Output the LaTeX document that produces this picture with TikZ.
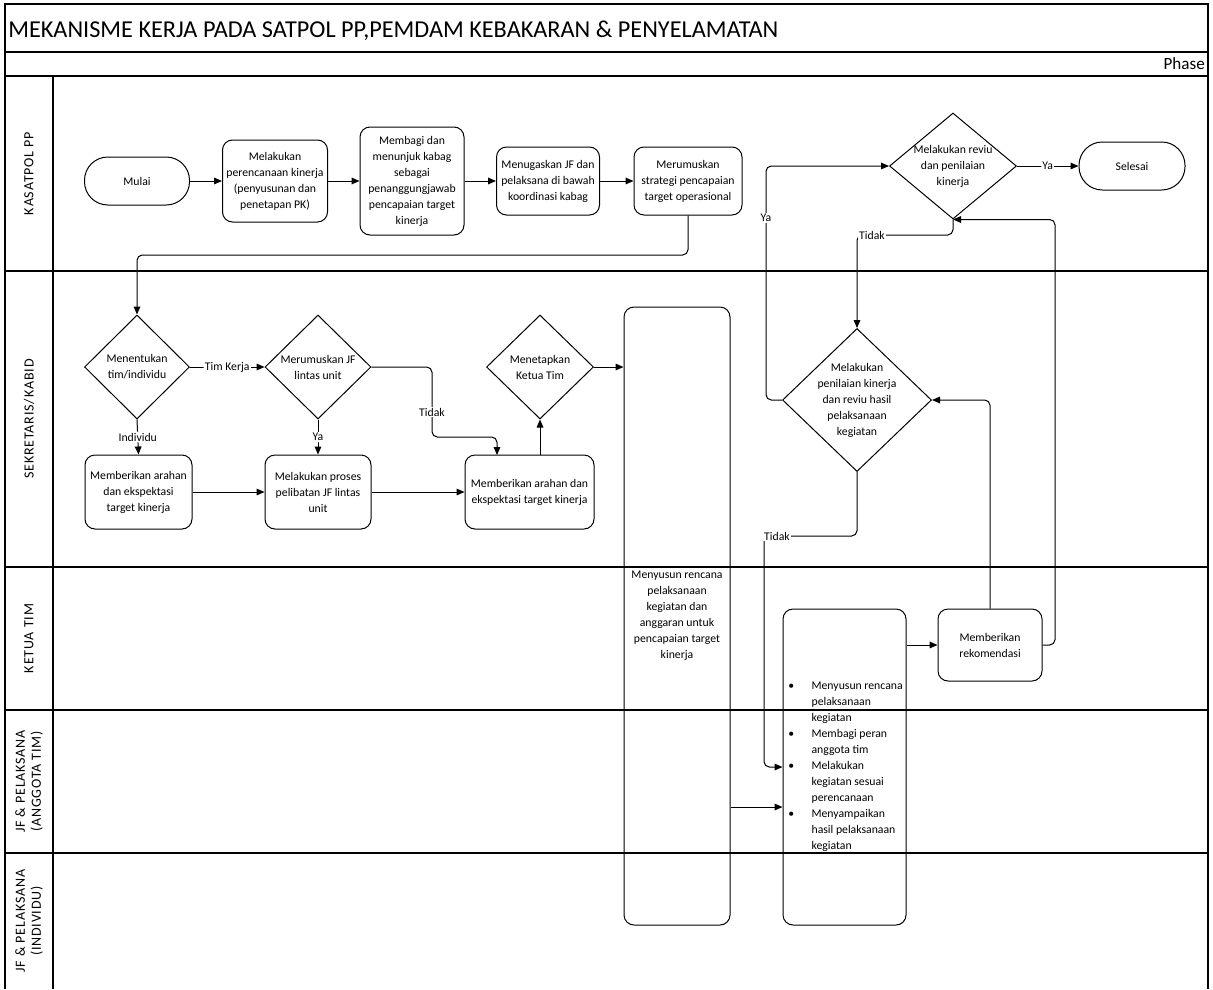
\documentclass[tikz,border=0pt]{standalone}
\usepackage{fontspec}
\setmainfont{Carlito}
\newfontfamily\lanefont[LetterSpace=6]{Carlito}
\usetikzlibrary{shapes.geometric,arrows.meta}
\begin{document}
\begin{tikzpicture}[x=0.75pt, y={(0pt,-0.75pt)},
  every node/.style={font=\fontsize{8.8}{12}\selectfont},
  sz/.style 2 args={minimum width={#1*0.75pt}, minimum height={#2*0.75pt}},
  box/.style={draw, line width=0.75pt, rounded corners=7.5pt, inner sep=0pt, align=center},
  term/.style={draw, line width=0.75pt, rounded corners=17.5pt, inner sep=0pt, align=center},
  dia/.style={draw, line width=0.75pt, diamond, inner sep=0pt},
  txt/.style={inner sep=0pt, align=center},
  flow/.style={line width=0.75pt, rounded corners=4pt, -{Triangle[length=6pt,width=5pt]}},
  lbl/.style={fill=white, inner sep=1pt},
  lane/.style={line width=1.4pt},
  lanetxt/.style={rotate=90, align=center, inner sep=0pt, font=\lanefont\fontsize{10.5}{12}\selectfont}]
\useasboundingbox (0,0) rectangle (1213,989);
% frame and lanes
\draw[lane] (5,989) -- (5,4) -- (1208,4) -- (1208,989);
\draw[lane] (5,52) -- (1208,52);
\draw[lane] (5,76) -- (1208,76);
\draw[lane] (5,271) -- (1208,271);
\draw[lane] (5,567) -- (1208,567);
\draw[lane] (5,710) -- (1208,710);
\draw[lane] (5,853) -- (1208,853);
\draw[lane] (53,76) -- (53,989);
\node[anchor=base west, inner sep=0pt, font=\fontsize{18.2}{20}\selectfont] (title) at (8,37) {MEKANISME KERJA PADA SATPOL PP,PEMDAM KEBAKARAN \& PENYELAMATAN};
\node[anchor=base east, inner sep=0pt, font=\fontsize{12.8}{14}\selectfont] (phase) at (1205,69) {Phase};
\node[lanetxt] (l1) at (29,173.5) {KASATPOL PP};
\node[lanetxt] (l2) at (29,419) {SEKRETARIS/KABID};
\node[lanetxt] (l3) at (29,638.5) {KETUA TIM};
\node[lanetxt] (l4) at (29,781.5) {JF \& PELAKSANA\\(ANGGOTA TIM)};
\node[lanetxt] (l5) at (29,921) {JF \& PELAKSANA\\(INDIVIDU)};
% lane 1
\node[term, sz={105}{48}] (mulai) at (137,181) {Mulai};
\node[box, sz={105}{82}] (A) at (275,181) {Melakukan\\perencanaan kinerja\\(penyusunan dan\\penetapan PK)};
\node[box, sz={104}{108}] (B) at (412,181) {Membagi dan\\menunjuk kabag\\sebagai\\penanggungjawab\\pencapaian target\\kinerja};
\node[box, sz={103}{68}] (C) at (548,181) {Menugaskan JF dan\\pelaksana di bawah\\koordinasi kabag};
\node[box, sz={108}{68}] (D) at (688,181) {Merumuskan\\strategi pencapaian\\target operasional};
\node[dia, sz={127}{106}] (R) at (953,166) {};
\node[txt] (Rt) at (R.center) {Melakukan reviu\\dan penilaian\\kinerja};
\node[term, sz={106}{48}] (sel) at (1132,166) {Selesai};
% lane 2
\node[dia, sz={105}{104}] (M) at (137,367) {};
\node[txt] (Mt) at (M.center) {Menentukan\\tim/individu};
\node[dia, sz={106}{104}] (J) at (318,367) {};
\node[txt] (Jt) at (J.center) {Merumuskan JF\\lintas unit};
\node[dia, sz={107}{104}] (K) at (540,367) {};
\node[txt] (Kt) at (K.center) {Menetapkan\\Ketua Tim};
\node[box, sz={107}{74}] (E) at (138.5,492) {Memberikan arahan\\dan ekspektasi\\target kinerja};
\node[box, sz={106}{74}] (F) at (318,492) {Melakukan proses\\pelibatan JF lintas\\unit};
\node[box, sz={129}{74}] (G) at (529.5,492) {Memberikan arahan dan\\ekspektasi target kinerja};
\node[box, sz={106}{618}] (T) at (677,616) {Menyusun rencana\\pelaksanaan\\kegiatan dan\\anggaran untuk\\pencapaian target\\kinerja};
\node[dia, sz={149}{143}] (P) at (857,400) {};
\node[txt] (Pt) at (P.center) {Melakukan\\penilaian kinerja\\dan reviu hasil\\pelaksanaan\\kegiatan};
% lane 3/4
\node[box, sz={123}{316}] (U) at (844.5,767) {};
\node[txt, anchor=west, align=left] (Ut) at (786,766) {\begin{tabular}{@{}p{19pt}@{}l@{}}
\hspace*{1.5pt}\textbullet & Menyusun rencana\\
 & pelaksanaan\\
 & kegiatan\\
\hspace*{1.5pt}\textbullet & Membagi peran\\
 & anggota tim\\
\hspace*{1.5pt}\textbullet & Melakukan\\
 & kegiatan sesuai\\
 & perencanaan\\
\hspace*{1.5pt}\textbullet & Menyampaikan\\
 & hasil pelaksanaan\\
 & kegiatan
\end{tabular}};
\node[box, sz={104}{72}] (V) at (990,645) {Memberikan\\rekomendasi};
% helper coordinates
\coordinate (d1) at (688,255);
\coordinate (j1) at (432,437);
\coordinate (g1) at (497,455);
\coordinate (tu) at (0,807);
\coordinate (p1) at (764,536);
\coordinate (p2) at (0,767);
\coordinate (rx) at (1055,0);
\coordinate (yx) at (766,0);
\coordinate (tx) at (0,235);
% connectors
\draw[flow] (mulai.east) -- (A.west);
\draw[flow] (A.east) -- (B.west);
\draw[flow] (B.east) -- (C.west);
\draw[flow] (C.east) -- (D.west);
\draw[flow] (D.south) -- (d1) -| (M.north);
\draw[flow] (M.east) -- node[lbl] (lb1) {Tim Kerja} (J.west);
\draw[flow] (M.south) -- node[lbl] (lb2) {Individu} (E.north);
\draw[flow] (J.south) -- node[lbl] (lb3) {Ya} (F.north);
\draw[flow] (J.east) -| (j1) -| (g1);
\node[lbl] (lb4) at (432,412) {Tidak};
\draw[flow] (E.east) -- (F.west);
\draw[flow] (F.east) -- (G.west);
\draw[flow] (G.north -| K.south) -- (K.south);
\draw[flow] (K.east) -- (K.east -| T.west);
\draw[flow] (T.east |- tu) -- (U.west |- tu);
\draw[flow] (P.south) |- (p1) |- (U.west |- p2);
\node[lbl] (lb5) at (777,536) {Tidak};
\draw[flow] (U.east |- V.west) -- (V.west);
\draw[flow] (V.north) |- (P.east);
\draw[flow] (V.east) -| (R.south -| rx) -- (R.south);
\draw[flow] (P.west) -| (R.west -| yx) -- (R.west);
\node[lbl] (lb6) at (766,218) {Ya};
\draw[flow] (R.south) -- (R.south |- tx) -| (P.north);
\node[lbl] (lb7) at (872,235) {Tidak};
\draw[flow] (R.east) -- node[lbl] (lb8) {Ya} (sel.west);
\end{tikzpicture}
\end{document}
